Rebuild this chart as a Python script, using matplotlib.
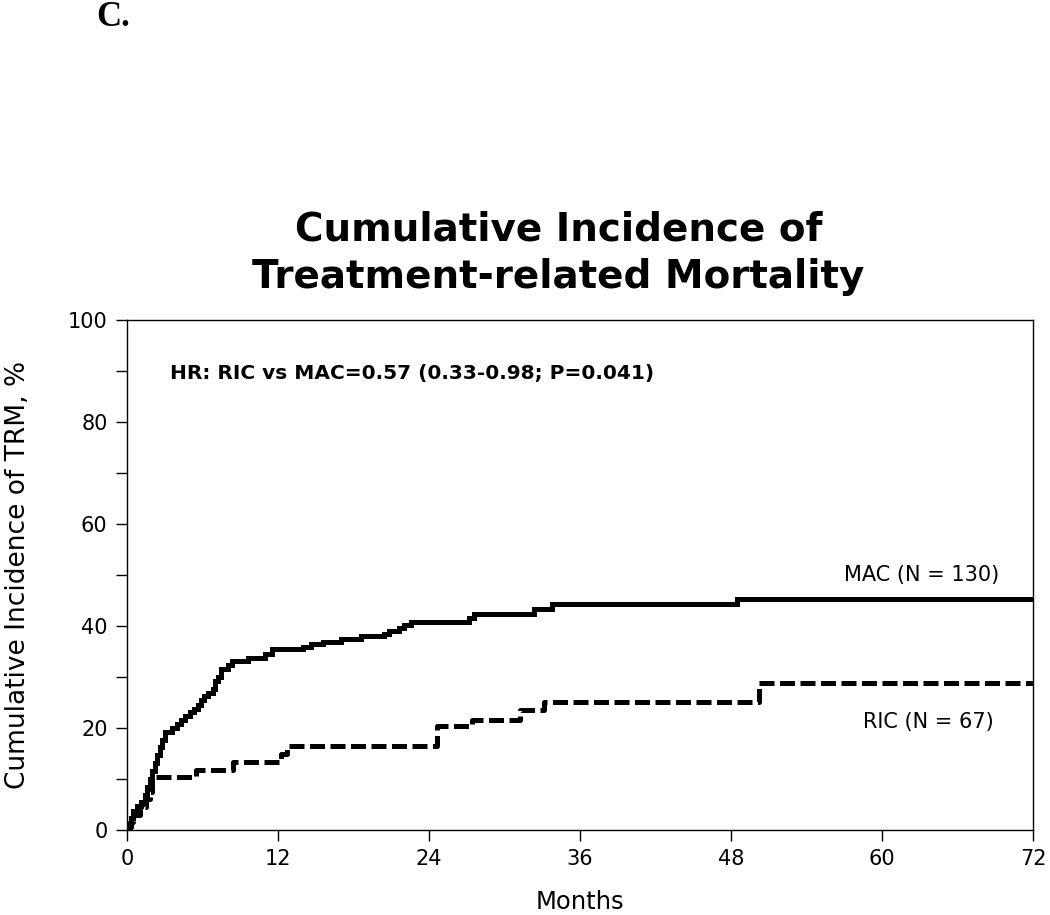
import matplotlib
matplotlib.use("Agg")
import matplotlib.pyplot as plt
from matplotlib.ticker import MultipleLocator

# step times (months) and cumulative incidence (%)
mac_months = [0, 0.1, 0.3, 0.5, 0.8, 1.1, 1.4, 1.6, 1.8, 2.0, 2.2, 2.4, 2.6, 2.8, 3.0,
              3.6, 4.0, 4.3, 4.6, 5.0, 5.3, 5.6, 5.9, 6.1, 6.4, 6.8, 7.0, 7.2, 7.5,
              8.0, 8.3, 9.6, 11.0, 11.5, 14.0, 14.6, 15.6, 17.0, 18.6, 20.4, 20.8,
              21.6, 22.0, 22.6, 27.2, 27.6, 32.3, 33.8, 48.5, 72]
mac_cif = [0, 0.8, 2.3, 3.8, 4.6, 5.4, 6.9, 8.5, 10.0, 11.5, 13.1, 14.6, 16.2, 17.7, 19.2,
           20.0, 20.8, 21.5, 22.3, 23.1, 23.8, 24.6, 25.4, 26.2, 26.9, 27.7, 29.2, 30.0, 31.5,
           32.3, 33.1, 33.8, 34.6, 35.4, 35.9, 36.4, 36.9, 37.4, 38.0, 38.5, 39.0,
           39.7, 40.2, 40.8, 41.5, 42.4, 43.3, 44.3, 45.4, 45.4]

ric_months = [0, 0.2, 0.5, 1.0, 1.5, 1.8, 2.0, 5.5, 8.4, 12.2, 12.7, 24.6, 27.4, 31.2,
              33.1, 50.2, 72]
ric_cif = [0, 1.5, 3.0, 4.5, 6.0, 7.5, 10.4, 11.8, 13.4, 14.8, 16.4, 20.3, 21.6, 23.5,
           25.0, 28.9, 28.9]

x_ticks = [0, 12, 24, 36, 48, 60, 72]
y_ticks = [0, 20, 40, 60, 80, 100]

fig = plt.figure(figsize=(10.5, 9.15), dpi=100)
ax = fig.add_axes([0.121, 0.093, 0.863, 0.557])

ax.plot(mac_months, mac_cif, drawstyle="steps-post", color="black", lw=3.6,
        solid_joinstyle="miter")
ax.plot(ric_months, ric_cif, drawstyle="steps-post", color="black", lw=3.6,
        linestyle=(0, (3.0, 1.1)))

ax.set_xlim(0, 72)
ax.set_ylim(0, 100)
ax.set_xticks(x_ticks)
ax.set_yticks(y_ticks)
ax.yaxis.set_minor_locator(MultipleLocator(10))
ax.tick_params(axis="both", which="both", direction="out", length=8, width=1.0,
               labelsize=15, pad=6)
for s in ax.spines.values():
    s.set_linewidth(1.0)

ax.set_xlabel("Months", fontsize=17.5)
ax.xaxis.set_label_coords(0.5, -0.118)
ax.set_ylabel("Cumulative Incidence of TRM, %", fontsize=19)
ax.yaxis.set_label_coords(-0.106, 0.5)

ax.text(3.4, 89.5, "HR: RIC vs MAC=0.57 (0.33-0.98; P=0.041)", fontsize=14.5,
        fontweight="bold", va="center", ha="left")
ax.text(69.3, 50.0, "MAC (N = 130)", fontsize=15, ha="right", va="center")
ax.text(68.9, 21.2, "RIC (N = 67)", fontsize=15, ha="right", va="center")

fig.text(0.532, 0.723, "Cumulative Incidence of\nTreatment-related Mortality",
         fontsize=28, fontweight="bold", ha="center", va="center", linespacing=1.3)
fig.text(0.092, 0.981, "C.", fontsize=25, fontweight="bold", family="Liberation Serif",
         ha="left", va="center")

fig.savefig("out.png", dpi=100, facecolor="white")
